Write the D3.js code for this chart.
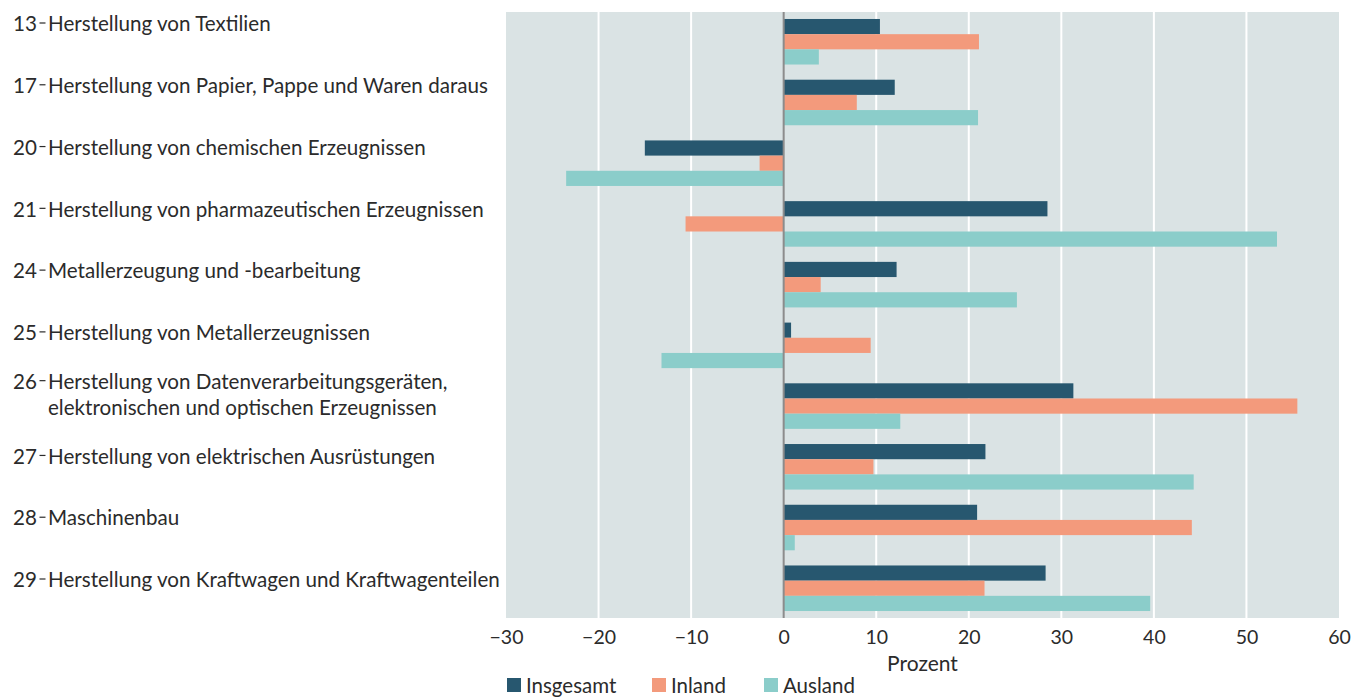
<!DOCTYPE html>
<html>
<head>
<meta charset="utf-8">
<script src="https://cdn.jsdelivr.net/npm/d3@7"></script>
<style>
  body { margin: 0; background: #fff; }
  svg text { font-family: Lato, "Noto Sans", sans-serif; fill: #2b2b2b; }
</style>
</head>
<body>
<div id="chart"></div>
<script>
// Data
//-----
var codes = ["13", "17", "20", "21", "24", "25", "26", "27", "28", "29"];
var names = [
  ["Herstellung von Textilien"],
  ["Herstellung von Papier, Pappe und Waren daraus"],
  ["Herstellung von chemischen Erzeugnissen"],
  ["Herstellung von pharmazeutischen Erzeugnissen"],
  ["Metallerzeugung und -bearbeitung"],
  ["Herstellung von Metallerzeugnissen"],
  ["Herstellung von Datenverarbeitungsgeräten,", "elektronischen und optischen Erzeugnissen"],
  ["Herstellung von elektrischen Ausrüstungen"],
  ["Maschinenbau"],
  ["Herstellung von Kraftwagen und Kraftwagenteilen"]
];
var seriesNames = ["Insgesamt", "Inland", "Ausland"];
var insgesamt = [10.4, 12.0, -15.0, 28.5, 12.2, 0.8, 31.3, 21.8, 20.9, 28.3];
var inland    = [21.1, 7.9, -2.6, -10.6, 4.0, 9.4, 55.5, 9.7, 44.1, 21.7];
var ausland   = [3.8, 21.0, -23.5, 53.3, 25.2, -13.2, 12.6, 44.3, 1.2, 39.6];
var xTicks = [-30, -20, -10, 0, 10, 20, 30, 40, 50, 60];

var colors = ["#27576f", "#f39a7c", "#8bcdca"];
var series = [insgesamt, inland, ausland];

// Sizing
//-------
var svgWidth = 1363;
var svgHeight = 698;
var plot = { left: 506, right: 1339, top: 12, bottom: 618 };
var labelSize = 20.6;
var lineGap = 26;

var svg = d3.select("#chart")
  .append("svg")
  .attr("width", svgWidth)
  .attr("height", svgHeight);

// Scales
//-------
var x = d3.scaleLinear()
  .domain([-30, 60])
  .range([plot.left, plot.right]);

var y = d3.scaleBand()
  .domain(codes)
  .range([plot.top, plot.bottom])
  .paddingInner(0.25)
  .paddingOuter(0.115);

var ySub = d3.scaleBand()
  .domain(seriesNames)
  .range([0, y.bandwidth()]);

// label positions
var yLabel = d3.scalePoint()
  .domain(codes)
  .range([24, 580]);

// Background and grid
//--------------------
svg.append("rect")
  .attr("x", plot.left)
  .attr("y", plot.top)
  .attr("width", plot.right - plot.left)
  .attr("height", plot.bottom - plot.top)
  .attr("fill", "#dae3e4");

svg.append("g")
  .selectAll("line")
  .data(xTicks.filter(d => d !== 0 && d !== -30 && d !== 60))
  .enter()
  .append("line")
  .attr("x1", d => x(d))
  .attr("x2", d => x(d))
  .attr("y1", plot.top)
  .attr("y2", plot.bottom)
  .attr("stroke", "#ffffff")
  .attr("stroke-width", 2);

// Bars
//-----
var groups = svg.append("g")
  .selectAll("g")
  .data(codes)
  .enter()
  .append("g")
  .attr("transform", d => `translate(0, ${y(d)})`);

groups.selectAll("rect")
  .data((c, i) => seriesNames.map((s, j) => ({ s: s, v: series[j][i], color: colors[j] })))
  .enter()
  .append("rect")
  .attr("x", d => x(Math.min(0, d.v)))
  .attr("y", d => ySub(d.s))
  .attr("width", d => Math.abs(x(d.v) - x(0)))
  .attr("height", ySub.bandwidth())
  .attr("fill", d => d.color);

// zero line
svg.append("line")
  .attr("x1", x(0))
  .attr("x2", x(0))
  .attr("y1", plot.top)
  .attr("y2", plot.bottom)
  .attr("stroke", "#8c8c8c")
  .attr("stroke-width", 2);

// X axis
//-------
var xAxis = svg.append("g")
  .attr("transform", `translate(0, ${plot.bottom})`)
  .call(d3.axisBottom(x).tickValues(xTicks).tickSize(0).tickPadding(12)
    .tickFormat(d => d < 0 ? "\u2212" + Math.abs(d) : d));
xAxis.select(".domain").remove();
xAxis.selectAll("text")
  .attr("font-size", 19.5)
  .style("font-family", "Lato, 'Noto Sans', sans-serif")
  .attr("fill", "#2b2b2b");

svg.append("text")
  .attr("x", (plot.left + plot.right) / 2)
  .attr("y", 671)
  .attr("text-anchor", "middle")
  .attr("font-size", 21)
  .text("Prozent");

// Y labels
//---------
var labels = svg.append("g")
  .selectAll("g")
  .data(codes)
  .enter()
  .append("g")
  .attr("transform", (d, i) => `translate(0, ${yLabel(d) - (names[i].length - 1) / 2 * lineGap})`);

labels.append("text")
  .attr("x", 37)
  .attr("dy", "0.35em")
  .attr("text-anchor", "end")
  .attr("font-size", labelSize)
  .text(d => d);

labels.append("line")
  .attr("x1", 39.5)
  .attr("x2", 45.5)
  .attr("y1", -1)
  .attr("y2", -1)
  .attr("stroke", "#2b2b2b")
  .attr("stroke-width", 1.2);

labels.append("text")
  .attr("x", 48)
  .attr("font-size", labelSize)
  .each(function(d, i) {
    var t = d3.select(this);
    names[i].forEach(function(l, k) {
      t.append("tspan")
        .attr("x", 48)
        .attr("y", k * lineGap)
        .attr("dy", "0.35em")
        .text(l);
    });
  });

// Legend
//-------
var legendX = [507, 652, 764];
var legend = svg.append("g")
  .selectAll("g")
  .data(seriesNames)
  .enter()
  .append("g")
  .attr("transform", (d, i) => `translate(${legendX[i]}, 678)`);

legend.append("rect")
  .attr("width", 14)
  .attr("height", 14)
  .attr("fill", (d, i) => colors[i]);

legend.append("text")
  .attr("x", 19)
  .attr("y", 14.5)
  .attr("font-size", 20.5)
  .text(d => d);
</script>
</body>
</html>
